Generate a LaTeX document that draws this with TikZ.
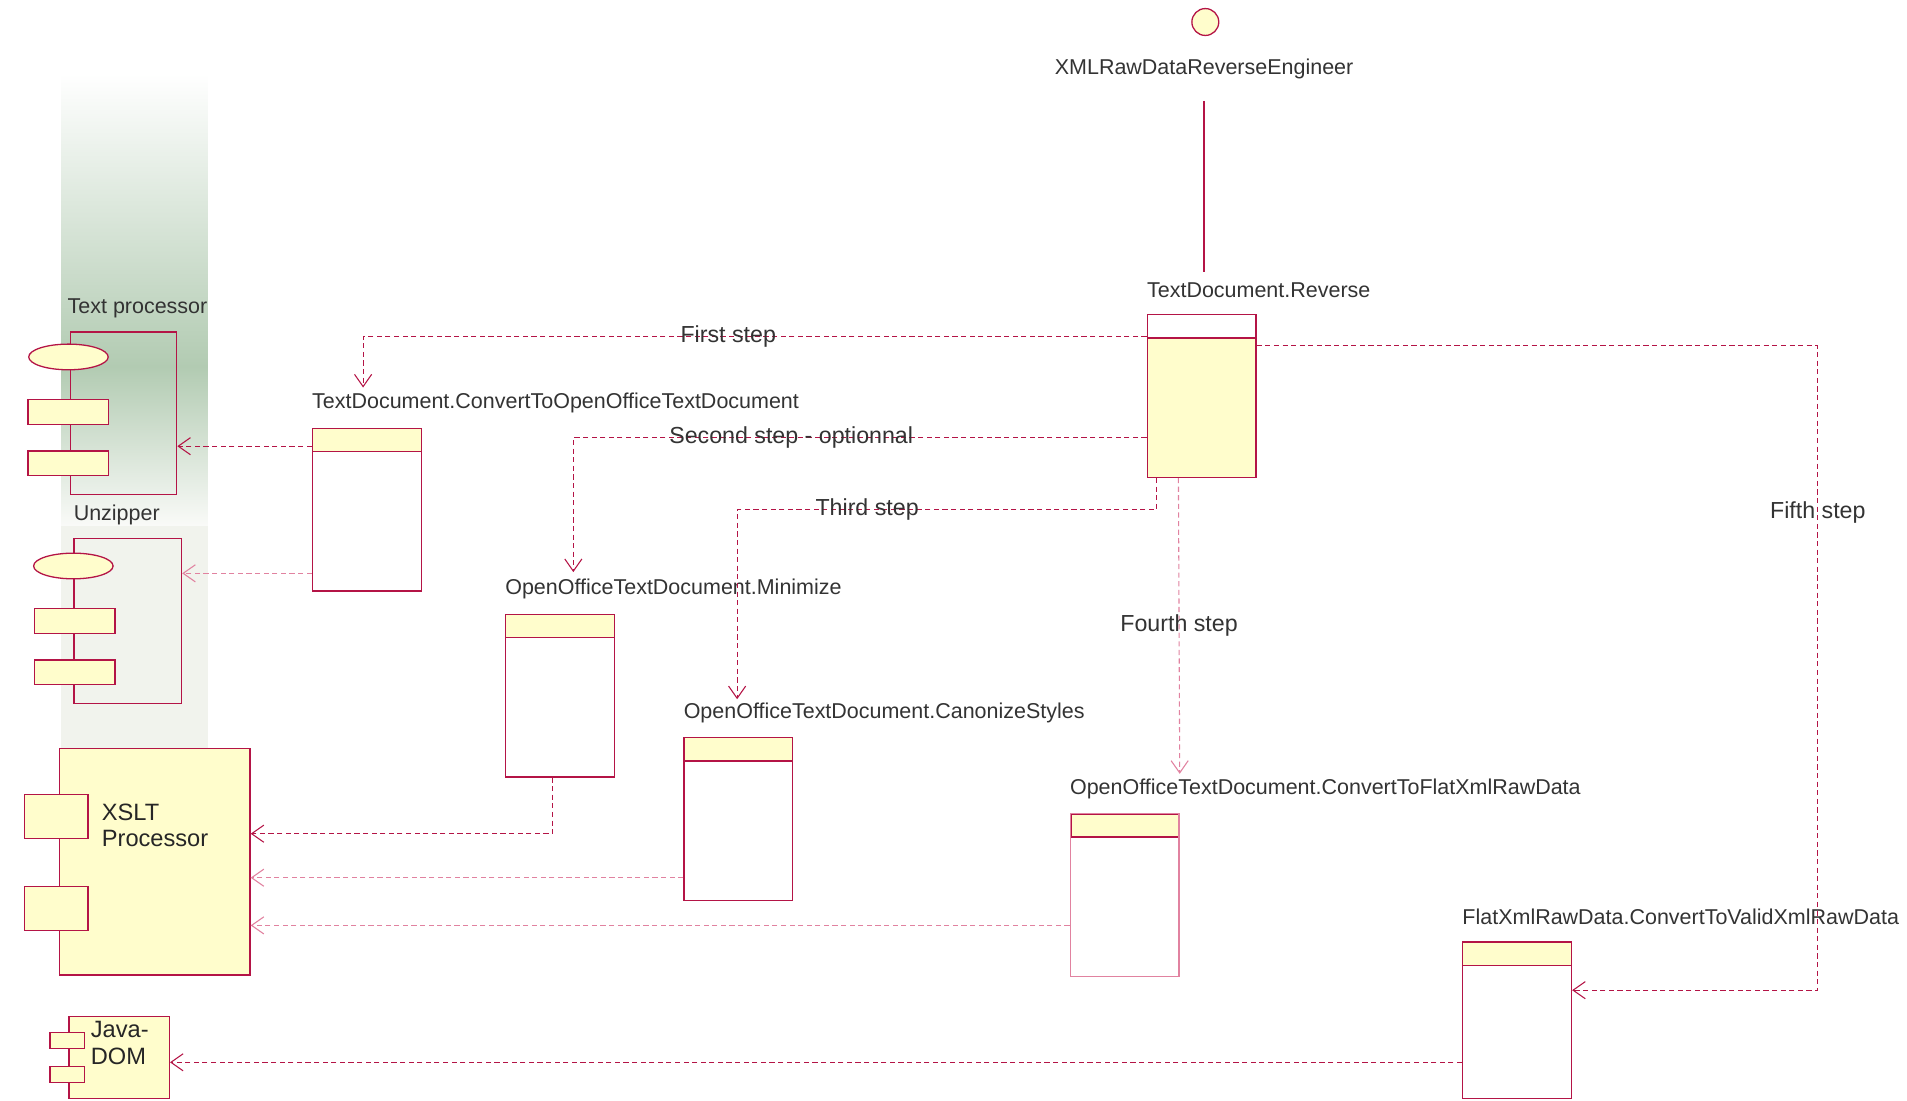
\documentclass[tikz,border=0pt]{standalone}
\usepackage{fontspec}
\setmainfont{Liberation Sans}
\usetikzlibrary{calc,arrows.meta,shapes.geometric}
\definecolor{umlred}{RGB}{180,20,70}
\definecolor{umlpink}{RGB}{225,130,160}
\definecolor{umlfill}{RGB}{255,253,204}
\definecolor{bandgreen}{RGB}{178,203,178}
\definecolor{bandgrey}{RGB}{241,243,237}
\begin{document}
\begin{tikzpicture}[x=0.2mm, y=-0.2mm,
  lbl/.style={font=\fontsize{10}{12}\selectfont, text=black!80, inner sep=0pt, anchor=west},
  steplbl/.style={font=\fontsize{10.8}{13}\selectfont, text=black!80, inner sep=0pt},
  complbl/.style={font=\fontsize{11}{12.5}\selectfont, text=black!85, inner sep=0pt, anchor=north west, align=left},
  objbox/.style={draw=umlred, fill=white, line width=0.6pt, anchor=north west, inner sep=0pt,
    minimum width=17.8mm, minimum height=26.6mm,
    path picture={\fill[umlfill] (path picture bounding box.north west) rectangle ([yshift=-3.8mm]path picture bounding box.north east);
      \draw[umlred, line width=0.6pt] ([yshift=-3.8mm]path picture bounding box.north west) -- ([yshift=-3.8mm]path picture bounding box.north east);}},
  fadebox/.style={objbox, draw=umlpink,
    path picture={\fill[umlfill] (path picture bounding box.north west) rectangle ([yshift=-3.8mm]path picture bounding box.north east);
      \draw[umlred, line width=1.2pt] (path picture bounding box.north west) rectangle ([yshift=-3.8mm]path picture bounding box.north east);}},
  revbox/.style={objbox, fill=umlfill,
    path picture={\fill[white] (path picture bounding box.north west) rectangle ([yshift=-3.8mm]path picture bounding box.north east);
      \draw[umlred, line width=0.6pt] ([yshift=-3.8mm]path picture bounding box.north west) -- ([yshift=-3.8mm]path picture bounding box.north east);}},
  actor/.style={circle, draw=umlred, fill=umlfill, line width=0.6pt, minimum size=4.4mm, inner sep=0pt},
  frame/.style={draw=umlred, line width=0.6pt, anchor=north west, inner sep=0pt, minimum width=17.4mm, minimum height=26.6mm},
  oval/.style={ellipse, draw=umlred, fill=umlfill, line width=0.6pt, inner sep=0pt, minimum width=13mm, minimum height=4.2mm},
  part/.style={draw=umlred, fill=umlfill, line width=0.6pt, inner sep=0pt, minimum width=13.2mm, minimum height=4mm},
  comp/.style={draw=umlred, fill=umlfill, line width=0.6pt, anchor=north west, inner sep=0pt},
  port/.style={draw=umlred, fill=umlfill, line width=0.6pt, inner sep=0pt},
  umlline/.style={umlred, line width=0.6pt},
  dep/.style={umlred, line width=0.5pt, dash pattern=on 2.4pt off 1.6pt, -{Straight Barb[length=2mm,width=2.8mm]}},
  deplight/.style={dep, umlpink}]
  \useasboundingbox (0,0) rectangle (1560,900);
  \shade[top color=white, bottom color=bandgreen] (50,60) rectangle (170,300);
  \shade[top color=bandgreen, bottom color=white!60!bandgrey] (50,300) rectangle (170,430);
  \fill[bandgrey] (50,430) rectangle (170,612);

  \node[actor] (actor) at (986,18) {};
  \node[lbl, anchor=center] (actorlbl) at (985,56) {XMLRawDataReverseEngineer};

  \node[revbox] (rev) at (938,257) {};
  \node[objbox] (conv) at (255,350) {};
  \node[objbox] (mini) at (413,502) {};
  \node[objbox] (canon) at (559,603) {};
  \node[fadebox] (flat) at (875,665) {};
  \node[objbox, minimum height=25.6mm] (valid) at (1196,770) {};
  \node[lbl] (revlbl) at ($(rev.north west)+(0,-20)$) {TextDocument.Reverse};
  \node[lbl] (convlbl) at ($(conv.north west)+(0,-20)$) {TextDocument.ConvertToOpenOfficeTextDocument};
  \node[lbl] (minilbl) at ($(mini.north west)+(0,-20)$) {OpenOfficeTextDocument.Minimize};
  \node[lbl] (canonlbl) at ($(canon.north west)+(0,-20)$) {OpenOfficeTextDocument.CanonizeStyles};
  \node[lbl] (flatlbl) at ($(flat.north west)+(0,-20)$) {OpenOfficeTextDocument.ConvertToFlatXmlRawData};
  \node[lbl] (validlbl) at ($(valid.north west)+(0,-20)$) {FlatXmlRawData.ConvertToValidXmlRawData};

  \node[lbl] (tproclbl) at (55,252) {Text processor};
  \node[frame] (tproc) at (57,271) {};
  \node[oval] (tproco) at (56,292) {};
  \node[part] (tproca) at (56,337) {};
  \node[part] (tprocb) at (56,379) {};

  \node[lbl] (unziplbl) at (60,421) {Unzipper};
  \node[frame, minimum width=17.6mm, minimum height=27mm] (unzip) at (60,440) {};
  \node[oval] (unzipo) at (60,463) {};
  \node[part] (unzipa) at (61,508) {};
  \node[part] (unzipb) at (61,550) {};

  \node[comp, minimum width=31.2mm, minimum height=37mm] (xslt) at (48,612) {};
  \node[port, minimum width=10.4mm, minimum height=7.2mm] (xslta) at (46,668) {};
  \node[port, minimum width=10.4mm, minimum height=7.2mm] (xsltb) at (46,743) {};
  \node[complbl] (xsltlbl) at (83,657) {XSLT\\Processor};

  \node[comp, minimum width=16.4mm, minimum height=13.4mm] (java) at (56,831) {};
  \node[port, minimum width=5.6mm, minimum height=2.6mm] (javaa) at (55,851) {};
  \node[port, minimum width=5.6mm, minimum height=2.6mm] (javab) at (55,879) {};
  \node[complbl] (javalbl) at (74,835) {Java-\\DOM};

  \draw[umlline] ($(actorlbl.south)+(0,18)$) -- ($(revlbl.north -| actorlbl.south)+(0,-8)$);

  \draw[dep] ($(rev.north west)+(0,18)$) -| node[steplbl, pos=0.267] {First step} ($(conv.north)+(-3,-33)$);
  \draw[dep] ($(rev.north west)+(0,101)$) -| node[steplbl, pos=0.31] {Second step - optionnal} ($(mini.north west)+(56,-34)$);
  \draw[dep] ($(rev.south west)+(8,0)$) -- ++(0,26) -| node[steplbl, pos=0.345] {Third step} ($(canon.north west)+(44,-31)$);
  \draw[deplight] ($(rev.south west)+(26,0)$) -- node[steplbl] {Fourth step} ($(flat.north east)+(0,-32)$);
  \draw[dep] ($(rev.north east)+(0,26)$) -- ($(rev.north east)+(459,26)$) |- node[steplbl, pos=0.129] {Fifth step} ($(valid.north east)+(0,40)$);

  \draw[dep] ($(conv.north west)+(0,15)$) -- ($(tproc.north east)+(0,94)$);
  \draw[deplight] ($(conv.north west)+(0,119)$) -- ($(unzip.north east)+(0,29)$);
  \draw[dep] ($(mini.south west)+(39,0)$) |- ($(xslt.north east)+(0,70)$);
  \draw[deplight] ($(canon.north west)+(0,115)$) -- ($(xslt.north east)+(0,106)$);
  \draw[deplight] ($(flat.north west)+(0,92)$) -- ($(xslt.north east)+(0,145)$);
  \draw[dep] ($(valid.north west)+(0,99)$) -- ($(java.north east)+(0,38)$);
\end{tikzpicture}
\end{document}
